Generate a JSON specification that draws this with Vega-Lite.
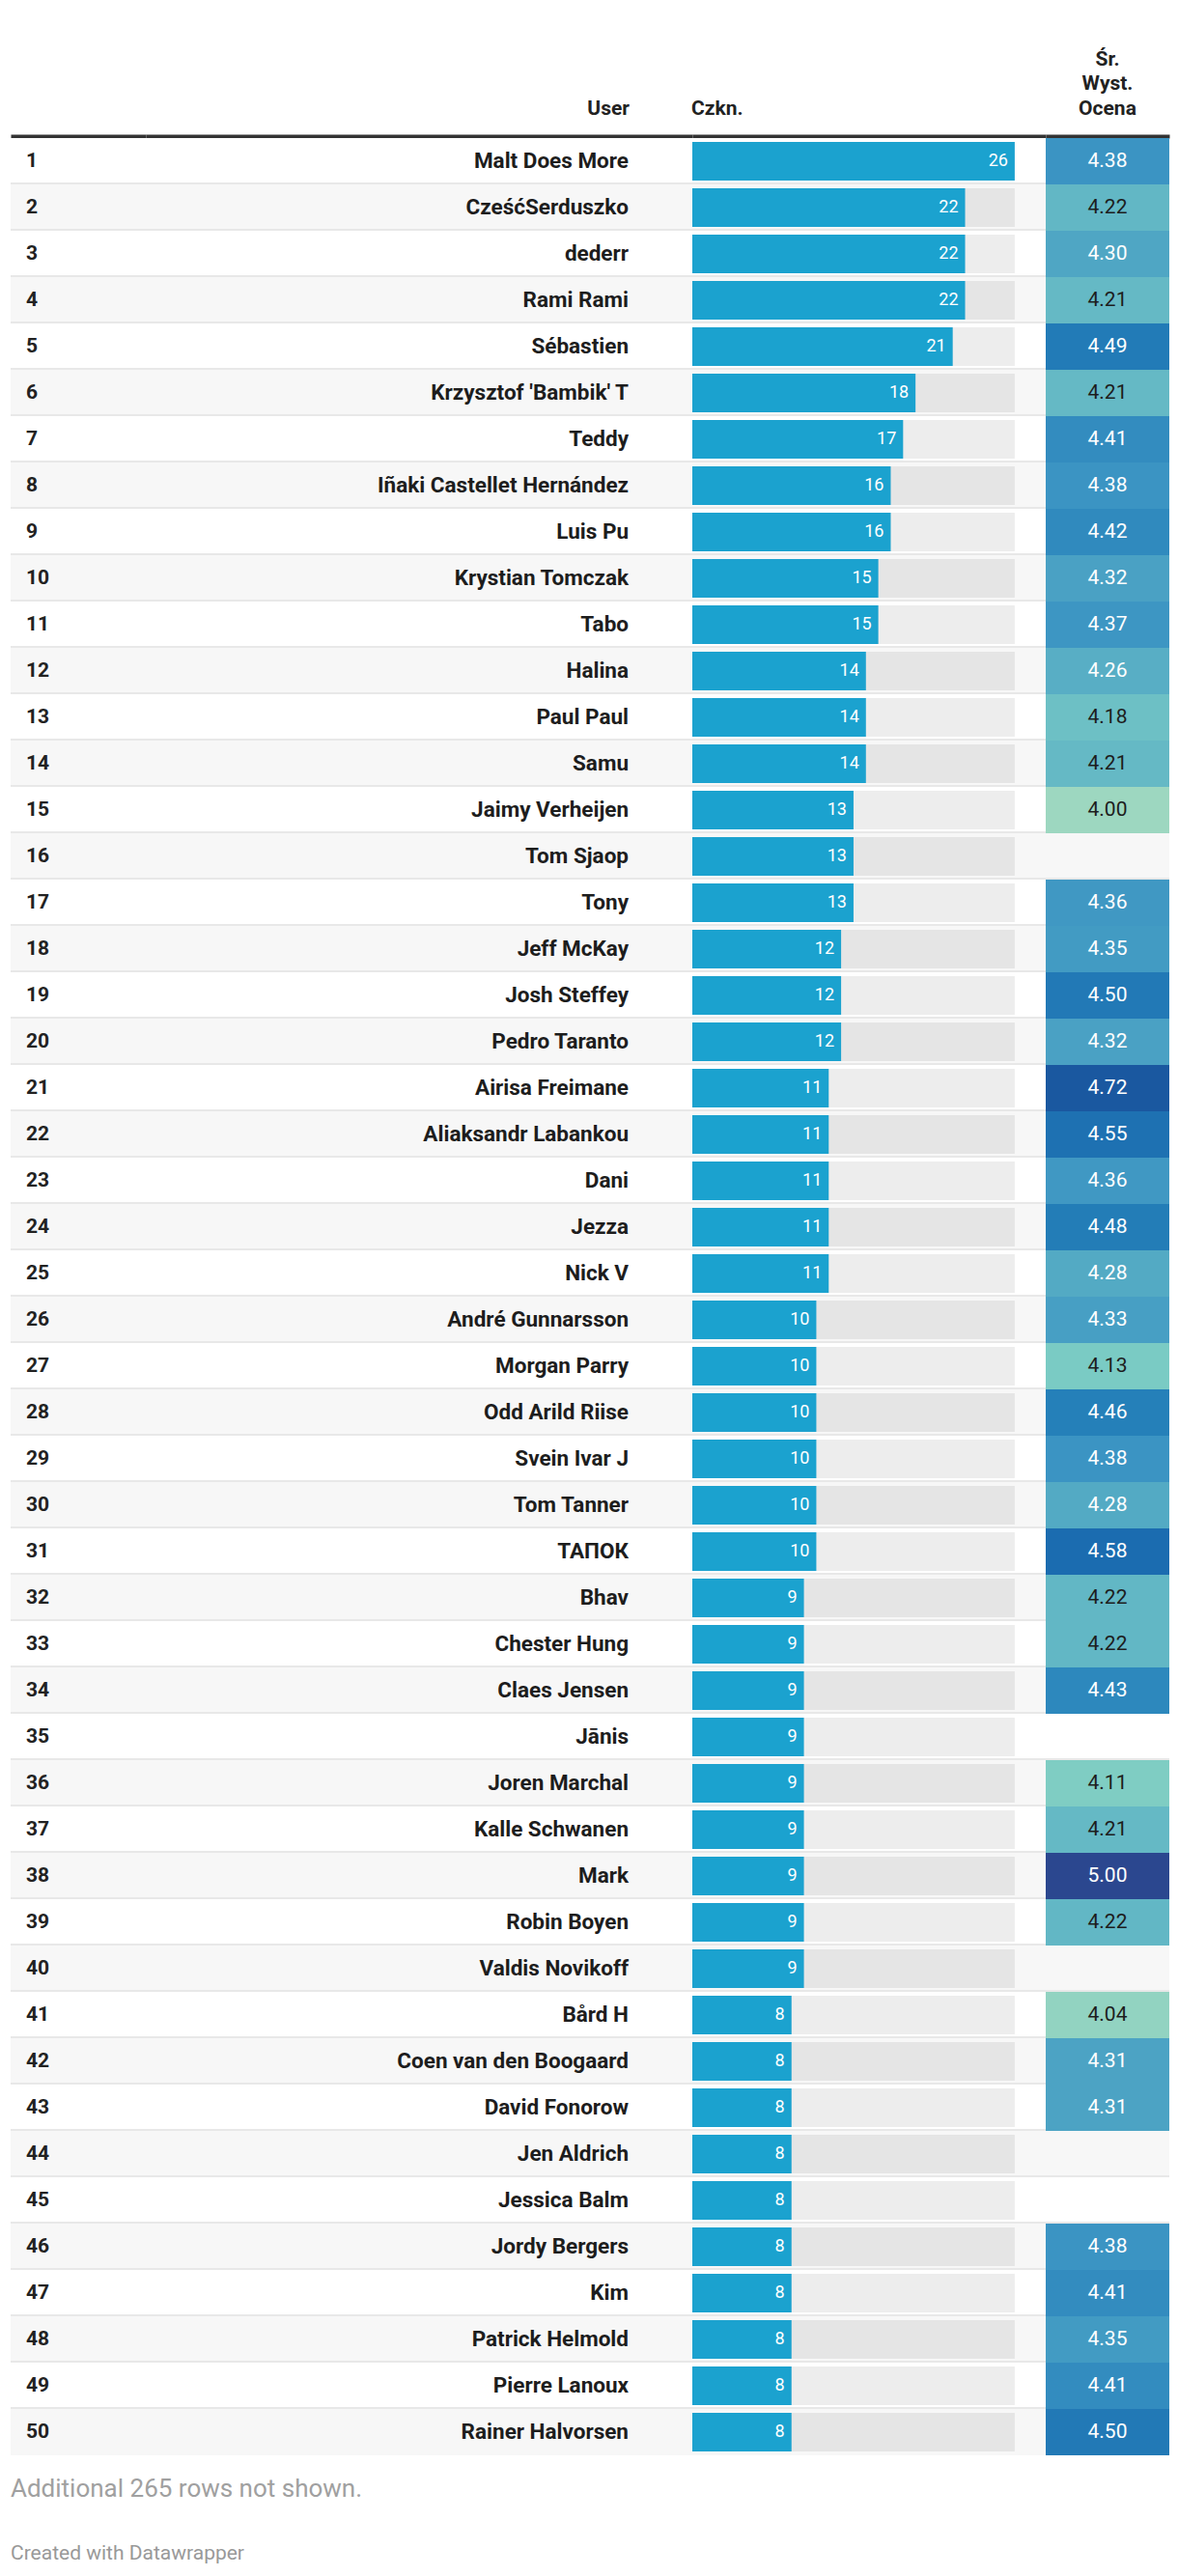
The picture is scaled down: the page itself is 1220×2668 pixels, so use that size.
{
  "$schema": "https://vega.github.io/schema/vega-lite/v6.json",
  "background": "#ffffff",
  "padding": {"top": 50, "left": 10, "right": 10, "bottom": 0},
  "autosize": {"type": "pad"},
  "config": {
    "font": "Roboto",
    "view": {"stroke": null},
    "axisX": {"orient": "top", "domain": true, "domainColor": "#333333", "domainWidth": 4, "ticks": false, "labels": false, "grid": false, "offset": 2, "zindex": 1, "title": null},
    "title": {"font": "Roboto", "fontSize": 21, "fontWeight": "bold", "color": "#222222", "offset": 18, "baseline": "bottom", "lineHeight": 25.7}
  },
  "title": {
    "text": "Additional 265 rows not shown.",
    "subtitle": "Created with Datawrapper",
    "orient": "bottom",
    "anchor": "start",
    "frame": "group",
    "offset": 22,
    "baseline": "top",
    "font": "Roboto",
    "fontSize": 26,
    "fontWeight": "normal",
    "color": "#a0a0a0",
    "subtitleFont": "Roboto",
    "subtitleFontSize": 21,
    "subtitleColor": "#999999",
    "subtitlePadding": 43
  },
  "data": {
    "values": [
      {"rank": 1, "user": "Malt Does More", "count": 26, "score": 4.38},
      {"rank": 2, "user": "CześćSerduszko", "count": 22, "score": 4.22},
      {"rank": 3, "user": "dederr", "count": 22, "score": 4.30},
      {"rank": 4, "user": "Rami Rami", "count": 22, "score": 4.21},
      {"rank": 5, "user": "Sébastien", "count": 21, "score": 4.49},
      {"rank": 6, "user": "Krzysztof 'Bambik' T", "count": 18, "score": 4.21},
      {"rank": 7, "user": "Teddy", "count": 17, "score": 4.41},
      {"rank": 8, "user": "Iñaki Castellet Hernández", "count": 16, "score": 4.38},
      {"rank": 9, "user": "Luis Pu", "count": 16, "score": 4.42},
      {"rank": 10, "user": "Krystian Tomczak", "count": 15, "score": 4.32},
      {"rank": 11, "user": "Tabo", "count": 15, "score": 4.37},
      {"rank": 12, "user": "Halina", "count": 14, "score": 4.26},
      {"rank": 13, "user": "Paul Paul", "count": 14, "score": 4.18},
      {"rank": 14, "user": "Samu", "count": 14, "score": 4.21},
      {"rank": 15, "user": "Jaimy Verheijen", "count": 13, "score": 4.00},
      {"rank": 16, "user": "Tom Sjaop", "count": 13, "score": null},
      {"rank": 17, "user": "Tony", "count": 13, "score": 4.36},
      {"rank": 18, "user": "Jeff McKay", "count": 12, "score": 4.35},
      {"rank": 19, "user": "Josh Steffey", "count": 12, "score": 4.50},
      {"rank": 20, "user": "Pedro Taranto", "count": 12, "score": 4.32},
      {"rank": 21, "user": "Airisa Freimane", "count": 11, "score": 4.72},
      {"rank": 22, "user": "Aliaksandr Labankou", "count": 11, "score": 4.55},
      {"rank": 23, "user": "Dani", "count": 11, "score": 4.36},
      {"rank": 24, "user": "Jezza", "count": 11, "score": 4.48},
      {"rank": 25, "user": "Nick V", "count": 11, "score": 4.28},
      {"rank": 26, "user": "André Gunnarsson", "count": 10, "score": 4.33},
      {"rank": 27, "user": "Morgan Parry", "count": 10, "score": 4.13},
      {"rank": 28, "user": "Odd Arild Riise", "count": 10, "score": 4.46},
      {"rank": 29, "user": "Svein Ivar J", "count": 10, "score": 4.38},
      {"rank": 30, "user": "Tom Tanner", "count": 10, "score": 4.28},
      {"rank": 31, "user": "ТАПОК", "count": 10, "score": 4.58},
      {"rank": 32, "user": "Bhav", "count": 9, "score": 4.22},
      {"rank": 33, "user": "Chester Hung", "count": 9, "score": 4.22},
      {"rank": 34, "user": "Claes Jensen", "count": 9, "score": 4.43},
      {"rank": 35, "user": "Jānis", "count": 9, "score": null},
      {"rank": 36, "user": "Joren Marchal", "count": 9, "score": 4.11},
      {"rank": 37, "user": "Kalle Schwanen", "count": 9, "score": 4.21},
      {"rank": 38, "user": "Mark", "count": 9, "score": 5.00},
      {"rank": 39, "user": "Robin Boyen", "count": 9, "score": 4.22},
      {"rank": 40, "user": "Valdis Novikoff", "count": 9, "score": null},
      {"rank": 41, "user": "Bård H", "count": 8, "score": 4.04},
      {"rank": 42, "user": "Coen van den Boogaard", "count": 8, "score": 4.31},
      {"rank": 43, "user": "David Fonorow", "count": 8, "score": 4.31},
      {"rank": 44, "user": "Jen Aldrich", "count": 8, "score": null},
      {"rank": 45, "user": "Jessica Balm", "count": 8, "score": null},
      {"rank": 46, "user": "Jordy Bergers", "count": 8, "score": 4.38},
      {"rank": 47, "user": "Kim", "count": 8, "score": 4.41},
      {"rank": 48, "user": "Patrick Helmold", "count": 8, "score": 4.35},
      {"rank": 49, "user": "Pierre Lanoux", "count": 8, "score": 4.41},
      {"rank": 50, "user": "Rainer Halvorsen", "count": 8, "score": 4.50}
    ]
  },
  "spacing": 0,
  "bounds": "flush",
  "hconcat": [
    {
      "width": 140,
      "height": 2400,
      "layer": [
        {"mark": {"type": "rect"}, "encoding": {"y": {"field": "rank", "type": "ordinal", "scale": {"paddingInner": 0, "paddingOuter": 0}, "axis": null}, "color": {"condition": {"test": "datum.rank % 2 === 0", "value": "#f7f7f7"}, "value": "#ffffff"}}},
        {"transform": [{"filter": "datum.rank < 50"}], "mark": {"type": "rule", "strokeWidth": 2, "color": "#e8e8e8", "yOffset": -1}, "encoding": {"y": {"field": "rank", "type": "ordinal", "bandPosition": 1}}},
        {"mark": {"type": "text", "align": "left", "baseline": "middle", "dx": 16, "fontSize": 21, "fontWeight": "bold", "color": "#222222"}, "encoding": {"y": {"field": "rank", "type": "ordinal"}, "x": {"datum": 0, "type": "quantitative", "scale": {"domain": [0, 1]}, "title": null}, "text": {"field": "rank"}}}
      ]
    },
    {
      "width": 566,
      "height": 2400,
      "title": {"text": "User", "anchor": "end", "dx": -66},
      "layer": [
        {"mark": {"type": "rect"}, "encoding": {"y": {"field": "rank", "type": "ordinal", "scale": {"paddingInner": 0, "paddingOuter": 0}, "axis": null}, "color": {"condition": {"test": "datum.rank % 2 === 0", "value": "#f7f7f7"}, "value": "#ffffff"}}},
        {"transform": [{"filter": "datum.rank < 50"}], "mark": {"type": "rule", "strokeWidth": 2, "color": "#e8e8e8", "yOffset": -1}, "encoding": {"y": {"field": "rank", "type": "ordinal", "bandPosition": 1}}},
        {"mark": {"type": "text", "align": "right", "baseline": "middle", "dx": -66, "fontSize": 22.5, "fontWeight": "bold", "color": "#1d1d1d"}, "encoding": {"y": {"field": "rank", "type": "ordinal"}, "x": {"datum": 1, "type": "quantitative", "scale": {"domain": [0, 1]}, "title": null}, "text": {"field": "user"}}}
      ]
    },
    {
      "width": 366,
      "height": 2400,
      "title": {"text": "Czkn.", "anchor": "start"},
      "layer": [
        {"mark": {"type": "rect"}, "encoding": {"y": {"field": "rank", "type": "ordinal", "scale": {"paddingInner": 0, "paddingOuter": 0}, "axis": null}, "color": {"condition": {"test": "datum.rank % 2 === 0", "value": "#f7f7f7"}, "value": "#ffffff"}}},
        {"transform": [{"filter": "datum.rank < 50"}], "mark": {"type": "rule", "strokeWidth": 2, "color": "#e8e8e8", "yOffset": -1}, "encoding": {"y": {"field": "rank", "type": "ordinal", "bandPosition": 1}}},
        {"mark": {"type": "bar", "height": {"band": 0.8333}, "color": "#000000", "opacity": 0.07}, "encoding": {"y": {"field": "rank", "type": "ordinal"}, "x": {"datum": 0, "type": "quantitative"}, "x2": {"datum": 26}}},
        {"mark": {"type": "bar", "height": {"band": 0.8333}, "color": "#1ba2cf"}, "encoding": {"y": {"field": "rank", "type": "ordinal"}, "x": {"field": "count", "type": "quantitative", "scale": {"domain": [0, 28.5], "nice": false, "zero": true}, "title": null}}},
        {"mark": {"type": "text", "align": "right", "baseline": "middle", "dx": -7, "fontSize": 18, "color": "#ffffff"}, "encoding": {"y": {"field": "rank", "type": "ordinal"}, "x": {"field": "count", "type": "quantitative"}, "text": {"field": "count"}}}
      ]
    },
    {
      "width": 128,
      "height": 2400,
      "title": {"text": ["Śr.", "Wyst.", "Ocena"], "anchor": "middle"},
      "layer": [
        {"mark": {"type": "rect"}, "encoding": {"y": {"field": "rank", "type": "ordinal", "scale": {"paddingInner": 0, "paddingOuter": 0}, "axis": null}, "color": {"condition": {"test": "datum.rank % 2 === 0", "value": "#f7f7f7"}, "value": "#ffffff"}}},
        {"transform": [{"filter": "datum.rank < 50"}], "mark": {"type": "rule", "strokeWidth": 2, "color": "#e8e8e8", "yOffset": -1}, "encoding": {"y": {"field": "rank", "type": "ordinal", "bandPosition": 1}}},
        {"transform": [{"filter": "isValid(datum.score)"}], "mark": {"type": "rect"}, "encoding": {"y": {"field": "rank", "type": "ordinal"}, "x": {"datum": 0, "type": "quantitative", "scale": {"domain": [0, 1]}, "title": null}, "x2": {"datum": 1}, "fill": {"field": "score", "type": "quantitative", "legend": null, "scale": {"type": "linear", "domain": [4.0, 4.13, 4.22, 4.38, 4.46, 4.58, 4.72, 5.0], "range": ["#9dd7c0", "#7acbc4", "#62b7c5", "#3b94c3", "#2580b9", "#1b6cb0", "#1a58a0", "#2b478f"], "interpolate": "rgb"}}}},
        {"transform": [{"filter": "isValid(datum.score)"}], "mark": {"type": "text", "align": "center", "baseline": "middle", "fontSize": 21}, "encoding": {"y": {"field": "rank", "type": "ordinal"}, "x": {"datum": 0.5, "type": "quantitative"}, "text": {"field": "score", "type": "quantitative", "format": ".2f"}, "color": {"condition": {"test": "datum.score < 4.25", "value": "#1d1d1d"}, "value": "#ffffff"}}}
      ]
    }
  ]
}
